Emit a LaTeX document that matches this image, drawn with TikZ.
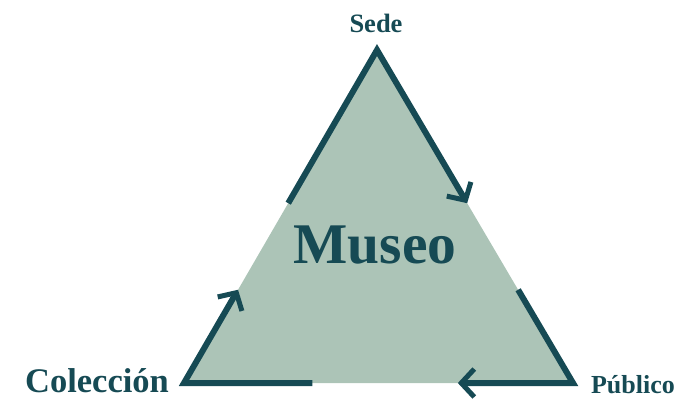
\documentclass[tikz,border=0pt]{standalone}
\usepackage{fontspec}
\setmainfont{Liberation Serif}
\usetikzlibrary{arrows.meta,calc}
\definecolor{teal}{HTML}{164A54}
\definecolor{sage}{HTML}{ACC4B7}
\tikzset{
  side/.style={draw=teal,line width=6pt,line join=miter,line cap=butt},
  barb/.style={-{Straight Barb[length=13pt,width=28pt,line width=5pt]}},
  lbl/.style={text=teal,anchor=base,inner sep=0pt,font=\bfseries}
}
\begin{document}
\begin{tikzpicture}[x=1pt,y=-1pt]
\useasboundingbox (0,0) rectangle (680,401);
\coordinate (A) at (377,50);
\coordinate (B) at (184,383);
\coordinate (C) at (573,383);
\fill[sage] (A) -- (B) -- (C) -- cycle;
% apex
\coordinate (a1) at ($(A)!0.46!(B)$);
\coordinate (a2) at ($(A)!0.46!(C)$);
\draw[side,barb] (a1) -- (A) -- (a2);
% right corner
\coordinate (c1) at ($(A)!0.72!(C)$);
\coordinate (c2) at ($(C)!0.296!(B)$);
\draw[side,barb] (c1) -- (C) -- (c2);
% left corner
\coordinate (b1) at ($(B)!0.33!(C)$);
\coordinate (b2) at ($(A)!0.72!(B)$);
\draw[side,barb] (b1) -- (B) -- (b2);
% labels
\node[lbl,font=\bfseries\fontsize{57.5}{60}\selectfont] (museo) at (375,263) {Museo};
\node[lbl,font=\bfseries\fontsize{26.5}{28}\selectfont] (sede) at (376,33) {Sede};
\node[lbl,font=\bfseries\fontsize{34.5}{36}\selectfont] (col) at (97,392) {Colección};
\node[lbl,font=\bfseries\fontsize{26}{28}\selectfont] (pub) at (633,393) {Público};
\end{tikzpicture}
\end{document}
